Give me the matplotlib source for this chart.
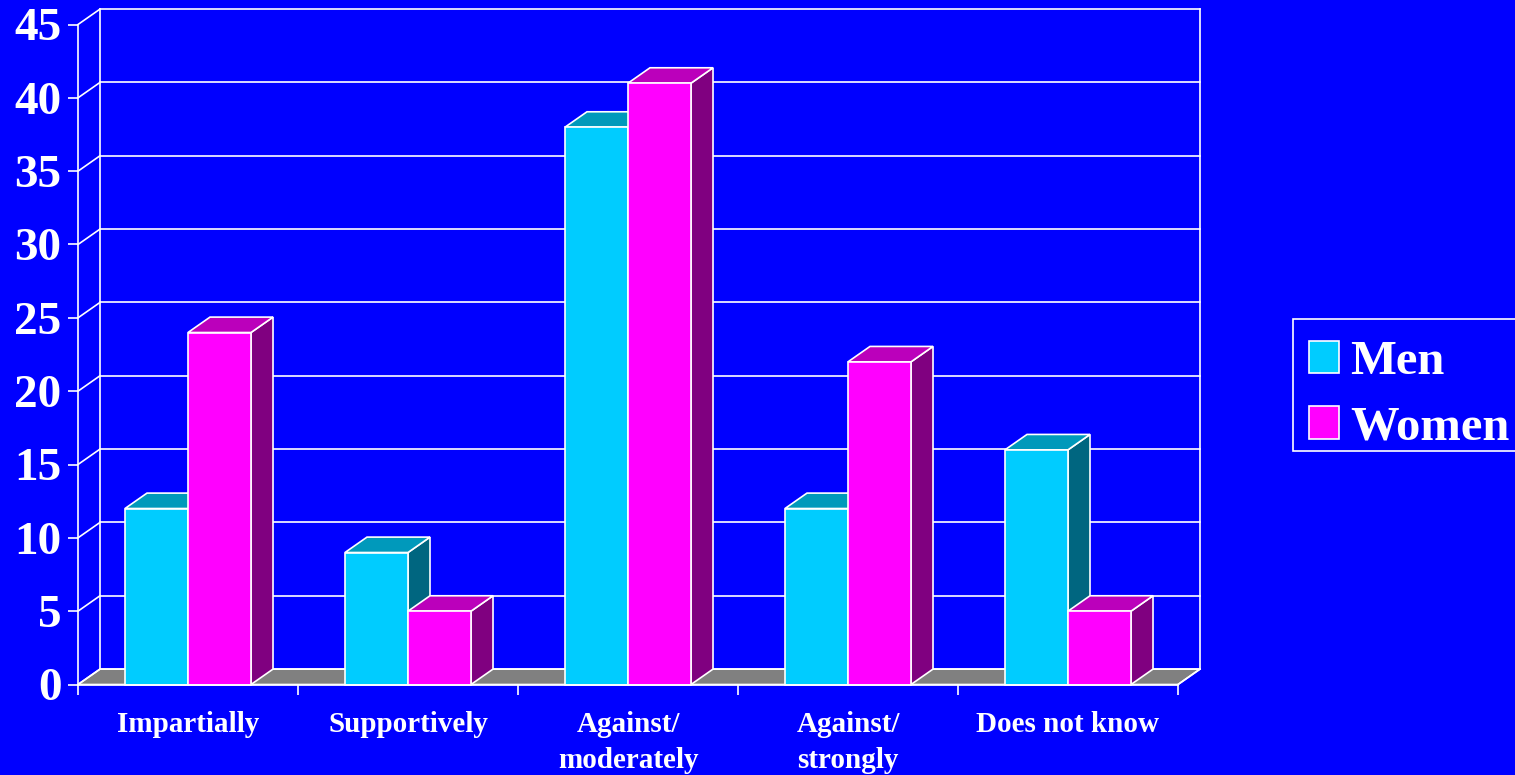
import matplotlib
matplotlib.use("Agg")
import matplotlib.pyplot as plt
from matplotlib.patches import Polygon, Patch, Rectangle

categories = ["Impartially", "Supportively", "Against/\nmoderately", "Against/\nstrongly", "Does not know"]
men = [12, 9, 38, 12, 16]
women = [24, 5, 41, 22, 5]
series_names = ["Men", "Women"]
y_ticks = [0, 5, 10, 15, 20, 25, 30, 35, 40, 45]

BG = "#0000FF"
FRONT = ["#00CCFF", "#FF00FF"]
TOP = ["#0099BB", "#BB00BB"]
SIDE = ["#006680", "#800080"]
FLOOR = "#808080"
W = "white"
LW = 1.2

plt.rcParams['font.family'] = ['Liberation Serif', 'DejaVu Serif']
plt.rcParams['font.weight'] = 'bold'

fig = plt.figure(figsize=(15.15, 7.75), dpi=100, facecolor=BG)
ax = fig.add_axes([78/1515, (775-684.5)/775, 1122/1515, 675.4/775])
ax.set_facecolor("none")

dx, dy = 0.1, 1.05
ymax = 45
n = len(categories)
ax.set_xlim(0, n + dx)
ax.set_ylim(0, ymax + dy)

# floor
ax.add_patch(Polygon([(0, 0), (n, 0), (n + dx, dy), (dx, dy)], closed=True,
                     facecolor=FLOOR, edgecolor=W, lw=LW, clip_on=False, zorder=1))
# back wall gridlines and left wall diagonals
for v in y_ticks:
    ax.plot([dx, n + dx], [v + dy, v + dy], color=W, lw=LW, clip_on=False, zorder=1.5)
    ax.plot([0, dx], [v, v + dy], color=W, lw=LW, clip_on=False, zorder=1.5)
ax.plot([dx, dx], [dy, ymax + dy], color=W, lw=LW, clip_on=False, zorder=1.5)
ax.plot([n + dx, n + dx], [dy, ymax + dy], color=W, lw=LW, clip_on=False, zorder=1.5)
ax.plot([n, n + dx], [0, dy], color=W, lw=LW, clip_on=False, zorder=1.5)

bw = 0.2864
z = 3
for i in range(n):
    for s, vals in enumerate([men, women]):
        h = vals[i]
        x0 = i + 0.5 - bw + s * bw
        x1 = x0 + bw
        ax.add_patch(Polygon([(x1, 0), (x1 + dx, dy), (x1 + dx, h + dy), (x1, h)], closed=True,
                             facecolor=SIDE[s], edgecolor=W, lw=LW, zorder=z, clip_on=False))
        ax.add_patch(Polygon([(x0, h), (x1, h), (x1 + dx, h + dy), (x0 + dx, h + dy)], closed=True,
                             facecolor=TOP[s], edgecolor=W, lw=LW, zorder=z, clip_on=False))
        ax.add_patch(Polygon([(x0, 0), (x1, 0), (x1, h), (x0, h)], closed=True,
                             facecolor=FRONT[s], edgecolor=W, lw=LW, zorder=z, clip_on=False))
        z += 1

for side in ["top", "right"]:
    ax.spines[side].set_visible(False)
ax.spines["left"].set_bounds(0, ymax)
ax.spines["bottom"].set_bounds(0, n)
for side in ["left", "bottom"]:
    ax.spines[side].set_color(W)
    ax.spines[side].set_linewidth(LW)
    ax.spines[side].set_zorder(20)

ax.set_yticks(y_ticks)
ax.set_yticklabels([str(v) for v in y_ticks], fontsize=34, fontweight='bold', color=W)
ax.tick_params(axis='y', colors=W, length=7, width=LW, pad=5)

ax.set_xticks(list(range(n + 1)))
ax.set_xticklabels([])
ax.tick_params(axis='x', which='major', colors=W, length=7.5, width=LW, direction='out')
ax.set_xticks([i + 0.5 for i in range(n)], minor=True)
ax.set_xticklabels(categories, minor=True, fontsize=21, fontweight='bold', color=W,
                   linespacing=1.45)
ax.tick_params(axis='x', which='minor', length=0, pad=19)

# legend frame
fig.patches.append(Rectangle((1293/1515, 1 - 451/775), 240/1515, 132/775,
                             transform=fig.transFigure, facecolor=BG, edgecolor=W,
                             lw=LW, zorder=0))
handles = [Patch(facecolor=FRONT[0], edgecolor=W, lw=LW),
           Patch(facecolor=FRONT[1], edgecolor=W, lw=LW)]
leg = fig.legend(handles, series_names, loc='upper left', bbox_to_anchor=(1292/1515, 1 - 323/775),
                 frameon=False,
                 prop={'family': ['Liberation Serif'], 'weight': 'bold', 'size': 35},
                 labelcolor=W, borderpad=0.35, handlelength=0.62, handleheight=0.64,
                 handletextpad=0.22, labelspacing=0.444, borderaxespad=0)

fig.savefig("out.png", dpi=100, facecolor=BG)
